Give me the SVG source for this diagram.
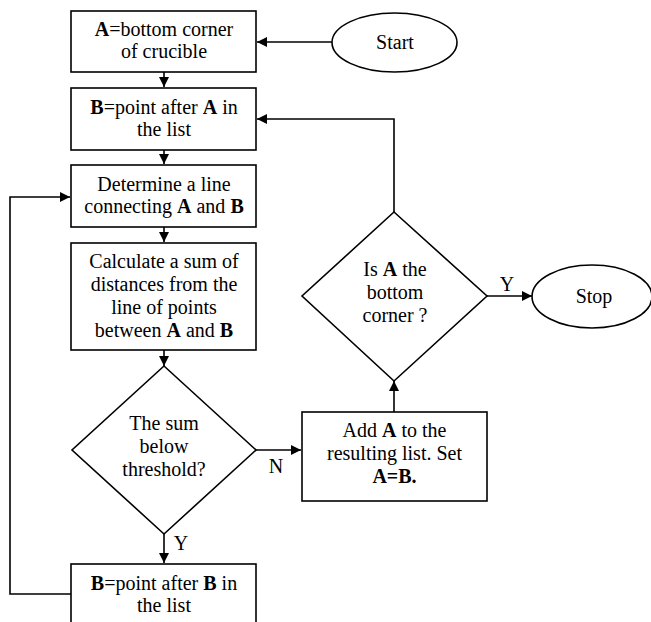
<svg xmlns="http://www.w3.org/2000/svg" width="651" height="622" viewBox="0 0 651 622" font-family="'Liberation Serif', 'Times New Roman', 'DejaVu Serif', serif" font-size="20">
<style>
.s{fill:#fff;stroke:#000;stroke-width:1.6}
.c{fill:none;stroke:#000;stroke-width:1.6}
text{font-family:'Liberation Serif','Times New Roman','DejaVu Serif',serif;font-size:20px;fill:#000;text-anchor:middle}
.b{font-weight:bold}
</style>
<defs>
<marker id="ah" markerWidth="10" markerHeight="10" refX="10" refY="5" orient="auto" markerUnits="userSpaceOnUse">
<path d="M0,0 L10,5 L0,10 Z" fill="#000"/>
</marker>
</defs>
<rect width="651" height="622" fill="#fff"/>
<g id="connectors">
<path class="c" d="M332,42 H257" marker-end="url(#ah)"/>
<path class="c" d="M164,72 V87" marker-end="url(#ah)"/>
<path class="c" d="M164,150 V164" marker-end="url(#ah)"/>
<path class="c" d="M164,227 V242" marker-end="url(#ah)"/>
<path class="c" d="M164,350 V366" marker-end="url(#ah)"/>
<path class="c" d="M164,534 V563" marker-end="url(#ah)"/>
<path class="c" d="M71,594 H10 V197 H70" marker-end="url(#ah)"/>
<path class="c" d="M256,450 H301" marker-end="url(#ah)"/>
<path class="c" d="M394,412 V381" marker-end="url(#ah)"/>
<path class="c" d="M394,212 V119 H257" marker-end="url(#ah)"/>
<path class="c" d="M487,296 H532" marker-end="url(#ah)"/>
<text x="181" y="550">Y</text>
<text x="276" y="473">N</text>
<text x="507" y="291">Y</text>
</g>
<g id="start">
<ellipse class="s" cx="394.5" cy="42.5" rx="62.5" ry="29.5"/>
<text x="395" y="49">Start</text>
</g>
<g id="box1">
<rect class="s" x="71" y="11" width="185" height="61"/>
<text x="164" y="36"><tspan class="b">A</tspan>=bottom corner</text>
<text x="164" y="58">of crucible</text>
</g>
<g id="box2">
<rect class="s" x="71" y="88" width="185" height="62"/>
<text x="164" y="114"><tspan class="b">B</tspan>=point after <tspan class="b">A</tspan> in</text>
<text x="164" y="136">the list</text>
</g>
<g id="box3">
<rect class="s" x="71" y="165" width="185" height="62"/>
<text x="164" y="191">Determine a line</text>
<text x="164" y="213">connecting <tspan class="b">A</tspan> and <tspan class="b">B</tspan></text>
</g>
<g id="box4">
<rect class="s" x="71" y="243" width="185" height="107"/>
<text x="164" y="268">Calculate a sum of</text>
<text x="164" y="291">distances from the</text>
<text x="164" y="314">line of points</text>
<text x="164" y="337">between <tspan class="b">A</tspan> and <tspan class="b">B</tspan></text>
</g>
<g id="decision1">
<polygon class="s" points="164,366 256,450 164,534 72,450"/>
<text x="164" y="430">The sum</text>
<text x="164" y="453">below</text>
<text x="164" y="476">threshold?</text>
</g>
<g id="box5">
<rect class="s" x="71" y="564" width="185" height="70"/>
<text x="164" y="590"><tspan class="b">B</tspan>=point after <tspan class="b">B</tspan> in</text>
<text x="164" y="612">the list</text>
</g>
<g id="box6">
<rect class="s" x="302" y="412" width="185" height="89"/>
<text x="394.5" y="437">Add <tspan class="b">A</tspan> to the</text>
<text x="394.5" y="460">resulting list. Set</text>
<text x="394.5" y="483" class="b">A=B.</text>
</g>
<g id="decision2">
<polygon class="s" points="394,212 487,296 394,381 302,296"/>
<text x="395" y="276">Is <tspan class="b">A</tspan> the</text>
<text x="395" y="299">bottom</text>
<text x="395" y="322">corner ?</text>
</g>
<g id="stop">
<ellipse class="s" cx="592" cy="296.5" rx="60" ry="31.5"/>
<text x="594" y="303">Stop</text>
</g>
</svg>
